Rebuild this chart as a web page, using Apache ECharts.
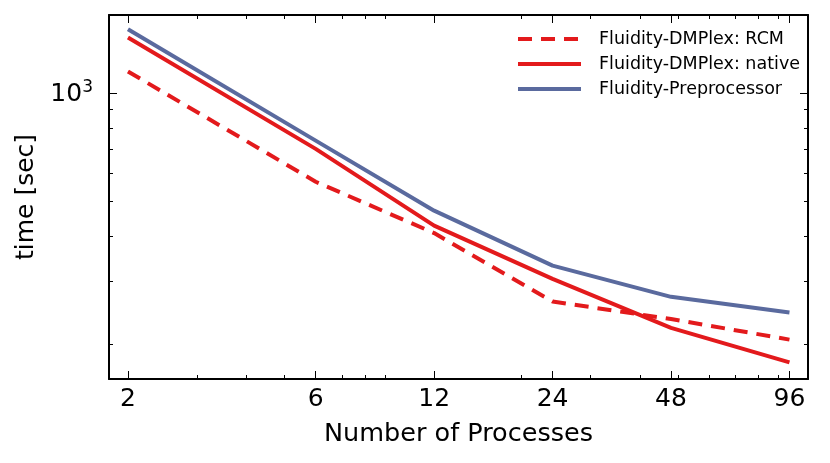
<!DOCTYPE html>
<html>
<head>
<meta charset="utf-8">
<script src="https://cdn.jsdelivr.net/npm/echarts@6/dist/echarts.min.js"></script>
<style>
html,body{margin:0;padding:0;background:#fff;}
#chart{width:830px;height:463px;}
</style>
</head>
<body>
<div id="chart"></div>
<script>
// ---- data ----
const processes = [2, 6, 12, 24, 48, 96];
const rcm = [1150, 567, 408, 263, 235, 206];
const native = [1430, 700, 428, 304, 222, 178];
const preproc = [1508, 738, 471, 331, 271, 245];
const seriesNames = ['Fluidity-DMPlex: RCM', 'Fluidity-DMPlex: native', 'Fluidity-Preprocessor'];
const xMajorTicks = [2, 6, 12, 24, 48, 96];
const xMinorTicks = [3, 4, 5, 7, 8, 9, 20, 30, 40, 50, 60, 70, 80, 90];
const yMajorTicks = [1000];
const yMinorTicks = [200, 300, 400, 500, 600, 700, 800, 900];
const xTitle = 'Number of Processes';
const yTitle = 'time [sec]';

const X_MIN = 1.79, X_MAX = 107, Y_MIN = 160, Y_MAX = 1652;
const FONT = 'DejaVu Sans';
const RED = '#e31a1c', BLUE = '#5a6a9e';
const LW = 4;

function pairs(ys) { return processes.map((x, i) => [x, ys[i]]); }

function xAx(pos, ticks, len, showLine, labels) {
  return {
    type: 'log', logBase: 10, min: X_MIN, max: X_MAX, position: pos,
    axisLine: { show: showLine, lineStyle: { color: '#000', width: 2 } },
    axisTick: { show: true, inside: true, length: len, customValues: ticks, lineStyle: { color: '#000', width: 1 } },
    axisLabel: labels ? { show: true, customValues: ticks, formatter: v => String(Math.round(v)), fontFamily: FONT, fontSize: 25, color: '#000', margin: 8 } : { show: false },
    splitLine: { show: false }, minorTick: { show: false }, minorSplitLine: { show: false }
  };
}
function yAx(pos, ticks, len, showLine, labels) {
  return {
    type: 'log', logBase: 10, min: Y_MIN, max: Y_MAX, position: pos,
    axisLine: { show: showLine, lineStyle: { color: '#000', width: 2 } },
    axisTick: { show: true, inside: true, length: len, customValues: ticks, lineStyle: { color: '#000', width: 1 } },
    axisLabel: labels ? {
      show: true, customValues: ticks, margin: 16,
      formatter: v => '{b|10}{s|' + Math.round(Math.log10(v)) + '}',
      rich: {
        b: { fontFamily: FONT, fontSize: 25, color: '#000', verticalAlign: 'bottom', lineHeight: 28 },
        s: { fontFamily: FONT, fontSize: 17, color: '#000', verticalAlign: 'top', lineHeight: 28, padding: [0, 0, 12, 0] }
      }
    } : { show: false },
    splitLine: { show: false }, minorTick: { show: false }, minorSplitLine: { show: false }
  };
}

const xAxes = [
  xAx('bottom', xMajorTicks, 8, true, true),
  xAx('bottom', xMinorTicks, 4, false, false),
  xAx('top', xMajorTicks, 8, true, false),
  xAx('top', xMinorTicks, 4, false, false)
];
Object.assign(xAxes[0], { name: xTitle, nameLocation: 'middle', nameGap: 42, nameTextStyle: { fontFamily: FONT, fontSize: 25.5, color: '#000' } });
const yAxes = [
  yAx('left', yMajorTicks, 8, true, true),
  yAx('left', yMinorTicks, 4, false, false),
  yAx('right', yMajorTicks, 8, true, false),
  yAx('right', yMinorTicks, 4, false, false)
];
Object.assign(yAxes[0], { name: yTitle, nameLocation: 'middle', nameGap: 70, nameTextStyle: { fontFamily: FONT, fontSize: 25, color: '#000' } });

const chart = echarts.init(document.getElementById('chart'), null, { renderer: 'canvas' });
chart.setOption({
  animation: false,
  backgroundColor: '#fff',
  grid: { left: 109, right: 22, top: 15, bottom: 84, containLabel: false },
  xAxis: xAxes,
  yAxis: yAxes,
  legend: {
    orient: 'vertical', left: 516, top: 29, padding: 0,
    itemWidth: 63, itemHeight: 14, itemGap: 5, selectedMode: false,
    data: seriesNames,
    itemStyle: { opacity: 0 },
    lineStyle: { width: LW },
    textStyle: { fontFamily: FONT, fontSize: 17.5, color: '#000', lineHeight: 20, padding: [0, 0, 0, 13] }
  },
  series: [
    { name: seriesNames[0], type: 'line', data: pairs(rcm), symbol: 'none', z: 3,
      lineStyle: { color: RED, width: LW, type: [14, 9], cap: 'butt' }, itemStyle: { color: RED } },
    { name: seriesNames[1], type: 'line', data: pairs(native), symbol: 'none', z: 4,
      lineStyle: { color: RED, width: LW }, itemStyle: { color: RED } },
    { name: seriesNames[2], type: 'line', data: pairs(preproc), symbol: 'none', z: 2,
      lineStyle: { color: BLUE, width: LW }, itemStyle: { color: BLUE } }
  ]
});
</script>
</body>
</html>
